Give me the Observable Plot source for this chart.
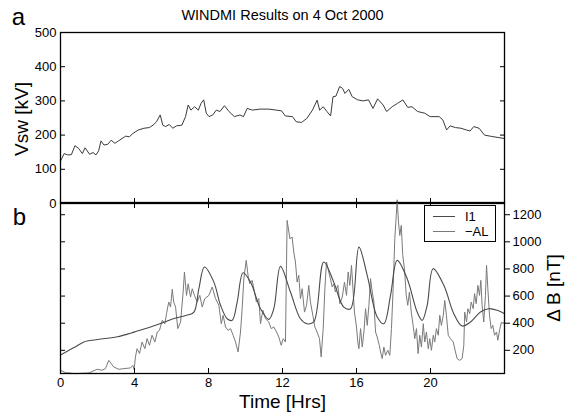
<!DOCTYPE html>
<html><head><meta charset="utf-8">
<script src="https://cdn.jsdelivr.net/npm/d3@7"></script>
<script src="https://cdn.jsdelivr.net/npm/@observablehq/plot@0.6"></script>
<style>
body{margin:0;background:#fff;}
#wrap{position:relative;width:572px;height:414px;font-family:"Liberation Sans",Arial,sans-serif;color:#000;}
#wrap svg{position:absolute;left:0;top:0;overflow:visible;background:transparent;}
.vlab{position:absolute;font-size:19px;line-height:19px;white-space:nowrap;transform:translate(-50%,-50%) rotate(-90deg);}
#legend{position:absolute;left:424px;top:205px;width:70px;height:35px;border:1.5px solid #000;background:#fff;font-size:13px;line-height:15px;}
#legend .row{position:absolute;left:0;height:15px;}
#legend .sw{position:absolute;left:8px;top:7px;width:22px;height:0;}
#legend .lb{position:absolute;left:40px;top:0;white-space:nowrap;}
</style></head><body><div id="wrap"><div id="legend"></div></div>
<script>
const title = "WINDMI Results on 4 Oct 2000";
const yLabelTop = "Vsw [kV]";
const yLabelBottom = "\u0394 B [nT]";
const xLabel = "Time [Hrs]";
const timeTicks = [0, 4, 8, 12, 16, 20];
const vswTicks = [0, 100, 200, 300, 400, 500];
const dbTicks = [200, 400, 600, 800, 1000, 1200];
const seriesNames = ["I1", "\u2212AL"];
const seriesColors = ["#4a4a4a", "#7a7a7a"];

const vswHours = [0,0.20,0.39,0.59,0.78,0.98,1.18,1.33,1.57,1.76,1.92,2.06,2.19,2.35,2.55,2.74,2.94,3.13,3.33,3.53,3.72,3.92,4.21,4.51,4.80,5.00,5.19,5.39,5.53,5.68,5.88,6.07,6.27,6.56,6.76,6.90,7.05,7.25,7.45,7.60,7.74,7.88,8.03,8.23,8.42,8.62,8.86,9.11,9.40,9.70,9.89,10.09,10.38,10.78,11.27,11.66,11.95,12.15,12.54,12.74,13.03,13.32,13.62,13.87,14.01,14.20,14.40,14.60,14.73,14.89,15.09,15.24,15.38,15.58,15.77,16.07,16.36,16.65,16.89,17.14,17.44,17.63,17.93,18.22,18.51,18.77,19.00,19.30,19.69,19.98,20.47,20.67,20.87,21.06,21.35,21.65,21.94,22.14,22.34,22.63,22.92,23.31,24.00];
const vswValues = [124,146,142,143,169,161,146,163,144,149,142,154,183,171,173,185,176,183,190,197,195,205,215,220,222,229,239,259,229,225,231,220,227,229,254,288,273,283,273,293,303,264,254,259,273,269,286,269,254,259,254,278,273,276,276,273,271,256,254,239,237,249,273,302,273,283,269,256,312,314,342,337,322,334,312,303,300,303,278,306,288,269,283,293,303,281,283,269,264,254,254,244,215,227,222,220,215,212,225,220,200,196,190];

const i1Hours = [0,0.73,1.26,1.51,2.30,3.08,3.87,4.65,5.44,6.23,6.81,7.21,7.48,7.78,8.29,8.65,9.01,9.28,9.55,9.87,10.27,10.81,11.26,11.53,11.89,12.43,12.97,13.33,13.69,14.23,14.77,15.31,15.68,16.13,16.58,17.12,17.48,17.84,18.20,18.74,19.28,19.55,19.82,20.14,20.72,21.26,21.71,22.16,22.70,23.15,23.61,24.00];
const i1Values = [165,220,262,270,285,300,330,362,400,438,458,482,654,814,703,532,433,421,556,772,703,507,428,507,819,630,433,396,409,851,703,519,507,961,753,446,396,605,863,728,482,421,532,802,679,470,379,409,482,507,495,470];

const alHours = [0,0.27,0.81,1.53,1.98,2.25,2.43,2.61,2.88,3.15,3.42,3.78,3.91,3.98,4.05,4.14,4.27,4.41,4.56,4.68,4.81,4.95,5.10,5.23,5.35,5.50,5.64,5.73,5.85,5.95,6.04,6.12,6.22,6.34,6.49,6.63,6.70,6.81,6.90,7.03,7.12,7.24,7.39,7.53,7.66,7.80,8.02,8.20,8.38,8.56,8.69,8.79,8.92,9.06,9.19,9.33,9.46,9.60,9.73,9.82,9.91,10.04,10.15,10.23,10.36,10.49,10.59,10.72,10.81,10.94,11.08,11.26,11.39,11.53,11.68,11.80,11.93,12.04,12.16,12.25,12.40,12.52,12.61,12.70,12.79,12.88,12.97,13.06,13.19,13.30,13.42,13.51,13.64,13.75,13.87,14.00,14.09,14.20,14.29,14.38,14.50,14.59,14.69,14.77,14.86,14.99,15.10,15.23,15.35,15.46,15.55,15.64,15.73,15.82,15.89,16.00,16.07,16.13,16.22,16.31,16.40,16.49,16.58,16.67,16.76,16.85,16.94,17.03,17.12,17.23,17.30,17.39,17.48,17.57,17.69,17.80,17.89,17.98,18.07,18.15,18.20,18.27,18.34,18.42,18.50,18.59,18.69,18.77,18.86,18.96,19.06,19.15,19.24,19.33,19.42,19.51,19.61,19.69,19.78,19.88,19.96,20.05,20.15,20.23,20.32,20.42,20.50,20.59,20.69,20.77,20.86,20.96,21.08,21.23,21.35,21.44,21.57,21.71,21.80,21.85,21.95,22.02,22.12,22.20,22.31,22.38,22.47,22.56,22.65,22.72,22.79,22.88,22.97,23.03,23.10,23.19,23.28,23.37,23.46,23.57,23.64,23.75,23.84,23.93,24.00];
const alValues = [53,35,28,33,60,53,65,126,77,60,65,70,89,58,151,212,176,261,212,286,237,311,261,335,347,421,396,470,556,519,650,556,519,360,409,630,777,605,691,593,654,605,556,605,519,581,605,667,581,532,396,458,372,347,360,311,261,188,335,507,728,863,740,691,716,630,556,581,396,495,433,409,360,372,335,298,237,286,261,1158,1023,1035,924,851,703,753,581,654,482,532,679,556,458,372,335,286,151,360,654,851,777,728,667,691,630,679,544,593,703,605,777,679,826,630,482,372,261,212,360,224,335,507,384,532,728,630,556,335,298,237,188,139,224,163,200,163,360,654,1023,1195,1310,1146,1047,1121,900,802,605,532,630,482,384,286,360,176,311,224,396,261,335,212,286,200,311,261,360,311,458,384,458,568,458,311,286,261,188,139,126,139,237,482,409,507,470,556,507,618,544,679,605,716,532,409,605,826,654,458,360,384,311,335,274,360,409,396,414];

const vsw = vswHours.map((h, i) => ({h, v: vswValues[i]}));
const i1 = i1Hours.map((h, i) => ({h, v: i1Values[i]}));
const al = alHours.map((h, i) => ({h, v: alValues[i]}));

const font = "Liberation Sans, Arial, Helvetica, sans-serif";
const plotStyle = {fontFamily: font, fontSize: "13px", background: "transparent", overflow: "visible", color: "black"};
const blank = () => "";
const plain = d => String(d);

const topPlot = Plot.plot({
  width: 572, height: 414,
  marginTop: 32, marginBottom: 211, marginLeft: 60, marginRight: 68,
  style: plotStyle,
  x: {domain: [0, 24]},
  y: {domain: [0, 500]},
  marks: [
    Plot.line(vsw, {x: "h", y: "v", stroke: "#3a3a3a", strokeWidth: 1}),
    Plot.frame({stroke: "black", strokeWidth: 1.3}),
    Plot.axisY(vswTicks, {anchor: "left", tickSize: -5, tickPadding: 9, tickFormat: plain, label: null, fontSize: 13}),
    Plot.axisY(vswTicks.slice(1, -1), {anchor: "right", tickSize: -5, tickFormat: blank, label: null}),
    Plot.axisX(timeTicks.slice(1), {anchor: "bottom", tickSize: -5, tickFormat: blank, label: null}),
    Plot.text([title], {text: d => d, frameAnchor: "top", dy: -13, fontSize: 14.5, lineAnchor: "bottom"}),
    Plot.text(["a"], {text: d => d, frameAnchor: "top-left", dx: -42, dy: -8, fontSize: 24, lineAnchor: "bottom", textAnchor: "middle"})
  ]
});

const bottomPlot = Plot.plot({
  width: 572, height: 414,
  marginTop: 202, marginBottom: 41, marginLeft: 60, marginRight: 68,
  style: plotStyle,
  x: {domain: [0, 24]},
  y: {domain: [29, 1290]},
  marks: [
    Plot.line(al, {x: "h", y: "v", stroke: seriesColors[1], strokeWidth: 1}),
    Plot.line(i1, {x: "h", y: "v", stroke: seriesColors[0], strokeWidth: 1.1, curve: "catmull-rom"}),
    Plot.frame({stroke: "black", strokeWidth: 1.3}),
    Plot.axisY(dbTicks, {anchor: "right", tickSize: 5, tickPadding: 3, tickFormat: plain, label: null, fontSize: 13}),
    Plot.axisY(dbTicks, {anchor: "left", tickSize: -5, tickFormat: blank, label: null}),
    Plot.axisX(timeTicks, {anchor: "bottom", tickSize: -5, tickPadding: 9, tickFormat: plain, label: null, fontSize: 13}),
    Plot.axisX(timeTicks.slice(1), {anchor: "top", tickSize: -5, tickFormat: blank, label: null}),
    Plot.text(["b"], {text: d => d, frameAnchor: "top-left", dx: -41, dy: 22, fontSize: 24, lineAnchor: "bottom", textAnchor: "middle"}),
    Plot.text([xLabel], {text: d => d, frameAnchor: "bottom", dy: 34, fontSize: 19, lineAnchor: "bottom"})
  ]
});

const wrap = document.getElementById("wrap");
const legend = document.getElementById("legend");
wrap.insertBefore(topPlot, legend);
wrap.insertBefore(bottomPlot, legend);

function vLabel(text, cx, cy) {
  const d = document.createElement("div");
  d.className = "vlab";
  d.style.left = cx + "px";
  d.style.top = cy + "px";
  d.textContent = text;
  wrap.appendChild(d);
}
vLabel(yLabelTop, 21, 119);
vLabel(yLabelBottom, 553, 288);

seriesNames.forEach((name, i) => {
  const row = document.createElement("div");
  row.className = "row";
  row.style.top = (3 + i * 15) + "px";
  row.style.width = "70px";
  const sw = document.createElement("span");
  sw.className = "sw";
  sw.style.borderTop = "1px solid " + seriesColors[i];
  const lb = document.createElement("span");
  lb.className = "lb";
  lb.textContent = name;
  row.appendChild(sw); row.appendChild(lb);
  legend.appendChild(row);
});
</script>
</body></html>
